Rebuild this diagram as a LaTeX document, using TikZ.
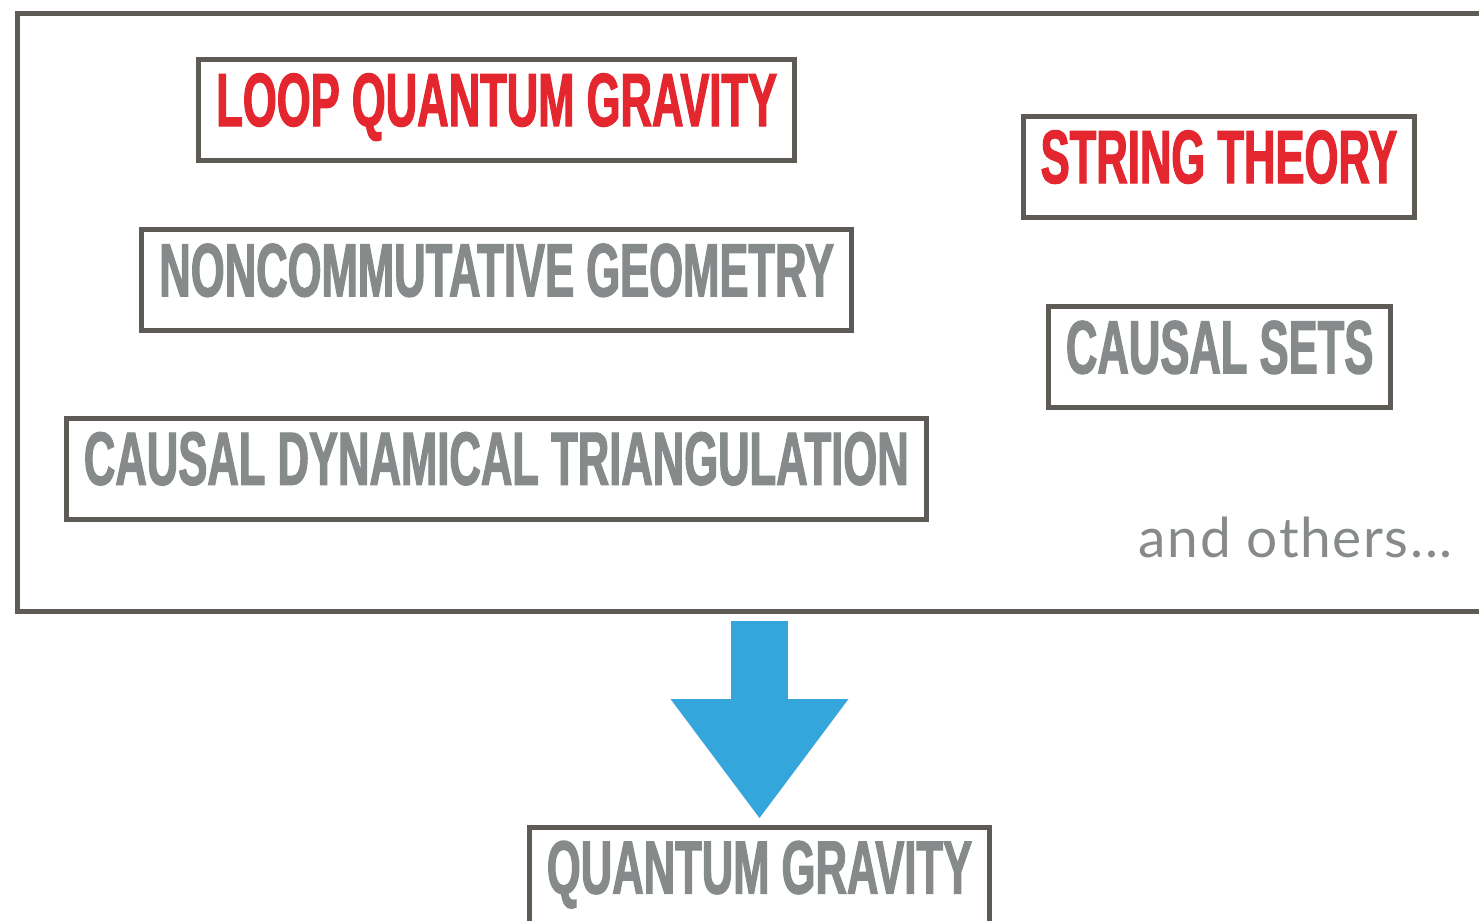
\documentclass[tikz,border=0pt]{standalone}
\usepackage{fontspec}
\usepackage{xcolor,tikz}
\usetikzlibrary{arrows.meta,positioning,calc}
\newfontfamily\dinfont{Liberation Sans Bold}[FakeStretch=0.578,FakeBold=1.5]
\newfontfamily\avfont{Lato}[LetterSpace=3]
\definecolor{fc}{RGB}{94,91,87}
\definecolor{tg}{RGB}{134,138,138}
\definecolor{rd}{RGB}{228,38,47}
\definecolor{ab}{RGB}{53,166,219}
\tikzset{box/.style={draw=fc,line width=2.5pt,outer sep=0pt,fill=white,text=tg,inner xsep=8.75pt,inner ysep=6.25pt,
  text height=27pt,text depth=11pt,font=\dinfont\fontsize{37.7}{40}\selectfont},
 rbox/.style={box,text=rd},
 frm/.style={draw=fc,line width=2.5pt},
 bigarr/.style={draw=ab,line width=28.5pt,-{Triangle[length=59.5pt,width=89pt,line width=0pt]}},
 note/.style={text=tg,inner sep=0pt,font=\avfont\fontsize{27.5}{30}\selectfont}}
\begin{document}
\begin{tikzpicture}[x=0.5pt,y=-0.5pt]
\useasboundingbox (0,0) rectangle (1479,921);
\draw[frm] (17.5,13.5) rectangle (1520,611);\coordinate (fb) at (758,611);
\node[rbox] (lqg) at (496.7,110) {LOOP QUANTUM GRAVITY};\node[rbox] (st) at (1219,167) {STRING THEORY};
\node[box] (ncg) at (496.7,280.3) {NONCOMMUTATIVE GEOMETRY};\node[box] (cs) at (1219.7,357.4) {CAUSAL SETS};
\node[box] (cdt) at (496.3,468.7) {CAUSAL DYNAMICAL TRIANGULATION};
\node[note,anchor=base east] (oth) at (1453,557) {and others...};
\node[box] (qg) at (759.5,877.5) {QUANTUM GRAVITY};
\draw[bigarr,shorten <=5pt,shorten >=4.5pt] (qg.north |- fb) -- (qg.north);
\end{tikzpicture}
\end{document}
